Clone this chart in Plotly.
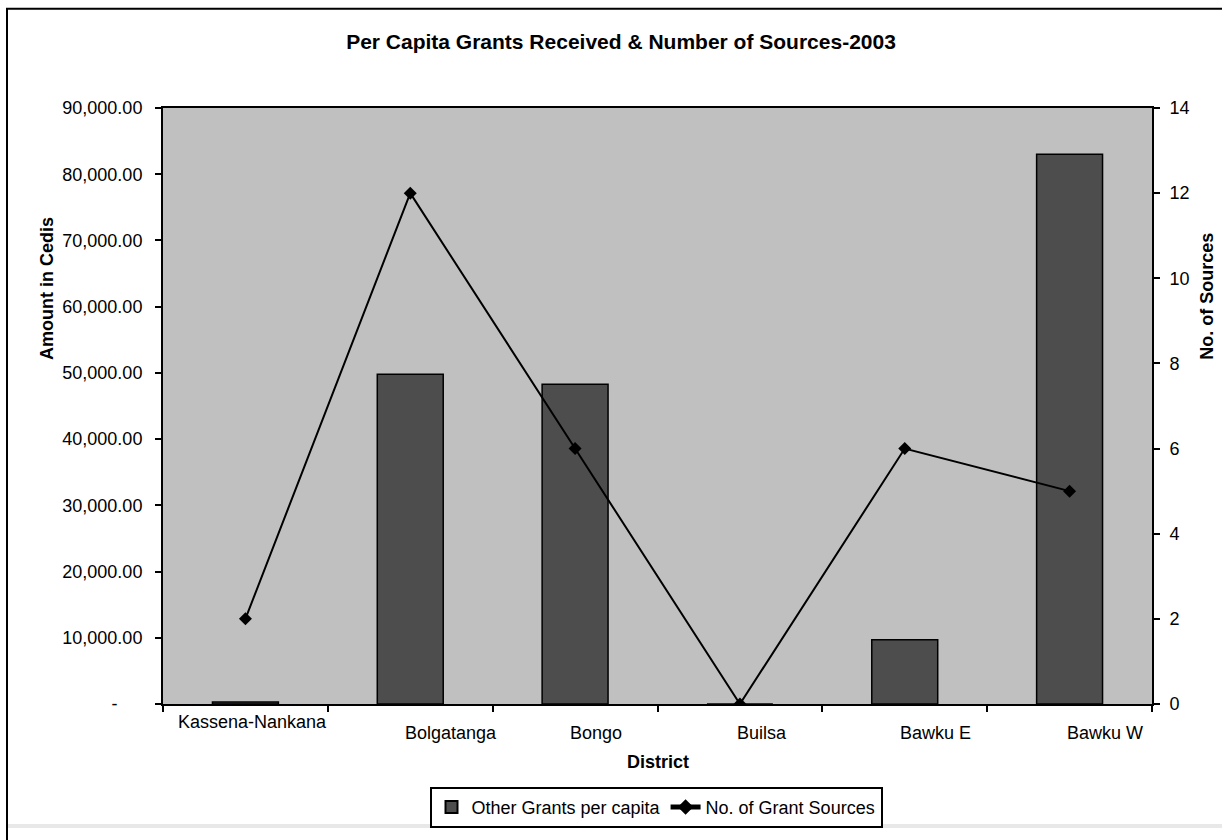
import plotly.graph_objects as go

districts = ["Kassena-Nankana", "Bolgatanga", "Bongo", "Builsa", "Bawku E", "Bawku W"]
grants_per_capita = [300, 49800, 48300, 0, 9700, 83000]
grant_sources = [2, 12, 6, 0, 6, 5]

y_tick_vals = [0, 10000, 20000, 30000, 40000, 50000, 60000, 70000, 80000, 90000]
y_tick_text = ["-\u00a0\u00a0\u00a0\u00a0\u00a0", "10,000.00", "20,000.00", "30,000.00", "40,000.00",
               "50,000.00", "60,000.00", "70,000.00", "80,000.00", "90,000.00"]
y2_tick_vals = [0, 2, 4, 6, 8, 10, 12, 14]

FONT = "Liberation Sans, Arial, sans-serif"

# plot area in pixels
L, R, T, B = 163, 1152, 108, 714
W, H = 1222, 840
pw, ph = R - L, B - T


def px(x):
    return (x - L) / pw


def py(y):
    return (B - y) / ph


fig = go.Figure()
fig.add_trace(go.Bar(
    x=districts, y=grants_per_capita, name="Other Grants per capita",
    marker=dict(color="#4d4d4d", line=dict(color="black", width=1.5)),
    width=0.4, yaxis="y",
))
fig.add_trace(go.Scatter(
    x=districts, y=grant_sources, name="No. of Grant Sources",
    mode="lines+markers", line=dict(color="black", width=2),
    marker=dict(symbol="diamond", size=10, color="black"),
    yaxis="y2",
))

# category label offsets (style only)
label_dx = [7, 41, 21, 22, 31, 35]
label_dy = [-18, -29, -29, -29, -29, -29]
annotations = []
for d, dx, dy in zip(districts, label_dx, label_dy):
    annotations.append(dict(x=d, xref="x", y=0, yref="paper", text=d, showarrow=False,
                            xshift=dx, yshift=dy, yanchor="middle", xanchor="center",
                            font=dict(family=FONT, size=18, color="black")))

annotations += [
    dict(x=px(47), y=py(292), xref="paper", yref="paper", text="<b>Amount in Cedis</b>",
         textangle=-90, showarrow=False, font=dict(family=FONT, size=18, color="black"),
         xanchor="center", yanchor="middle"),
    dict(x=px(1207), y=py(300), xref="paper", yref="paper", text="<b>No. of Sources</b>",
         textangle=-90, showarrow=False, font=dict(family=FONT, size=18, color="black"),
         xanchor="center", yanchor="middle"),
    dict(x=px(658), y=py(773), xref="paper", yref="paper", text="<b>District</b>",
         showarrow=False, font=dict(family=FONT, size=18, color="black"),
         xanchor="center", yanchor="middle"),
]

shapes = [
    dict(type="rect", xref="paper", yref="paper", x0=px(8), x1=px(1222), y0=py(836), y1=py(840),
         fillcolor="#e8e8e8", line=dict(width=0), layer="below"),
    dict(type="rect", xref="paper", yref="paper", x0=px(7), x1=px(1260), y0=py(7), y1=py(880),
         line=dict(color="black", width=2), fillcolor="rgba(0,0,0,0)"),
]

fig.update_layout(
    width=W, height=H,
    margin=dict(l=L, r=W - R, t=T, b=H - B),
    paper_bgcolor="white", plot_bgcolor="#c0c0c0",
    font=dict(family=FONT, size=18, color="black"),
    title=dict(text="<b>Per Capita Grants Received & Number of Sources-2003</b>",
               x=621 / W, xref="container", xanchor="center",
               y=1 - 42 / H, yref="container", yanchor="middle",
               font=dict(family=FONT, size=21, color="black")),
    xaxis=dict(type="category", tickson="boundaries", ticks="outside", ticklen=6, tickwidth=2,
               tickcolor="black", showticklabels=False, showline=True, linecolor="black",
               linewidth=2, mirror=True, showgrid=False, zeroline=False,
               range=[-0.5, len(districts) - 0.5]),
    yaxis=dict(range=[0, 90000], tickvals=y_tick_vals, ticktext=y_tick_text, ticks="outside",
               ticklen=6, tickwidth=2, tickcolor="black", showline=True, linecolor="black",
               linewidth=2, showgrid=False, zeroline=False, ticklabelstandoff=9,
               tickfont=dict(family=FONT, size=18, color="black")),
    yaxis2=dict(range=[0, 14], tickvals=y2_tick_vals, overlaying="y", side="right",
                ticks="outside", ticklen=6, tickwidth=2, tickcolor="black", showline=True,
                linecolor="black", linewidth=2, showgrid=False, zeroline=False,
                ticklabelstandoff=6, tickfont=dict(family=FONT, size=18, color="black")),
    legend=dict(orientation="h", x=px(656), y=py(819), xanchor="center", yanchor="middle",
                bgcolor="white", bordercolor="black", borderwidth=2,
                font=dict(family=FONT, size=18, color="black"), itemwidth=30,
                tracegroupgap=0, itemsizing="constant"),
    bargap=0.6,
    showlegend=True,
    annotations=annotations,
    shapes=shapes,
)

fig.write_html("out.html", config={"displayModeBar": False},
               post_script="document.body.style.margin='0';document.body.style.overflow='hidden';")
